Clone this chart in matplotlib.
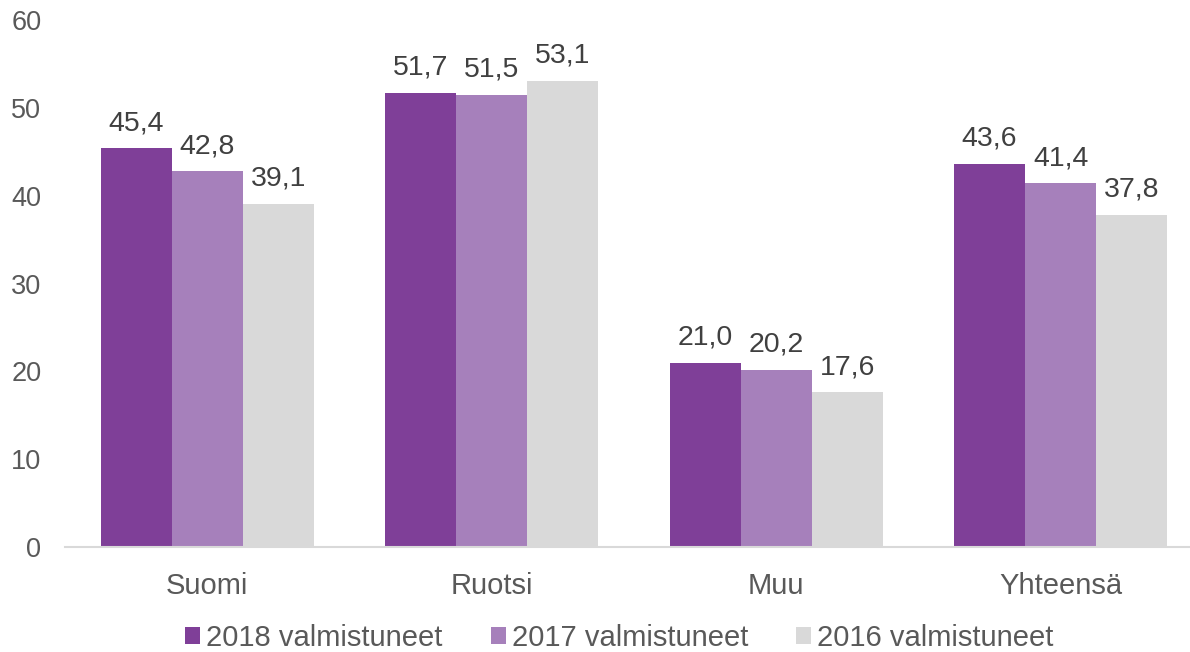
import matplotlib.pyplot as plt
import numpy as np

plt.rcParams['font.family'] = ['Liberation Sans', 'DejaVu Sans']

categories = ["Suomi", "Ruotsi", "Muu", "Yhteensä"]
series_names = ["2018 valmistuneet", "2017 valmistuneet", "2016 valmistuneet"]
v2018 = [45.4, 51.7, 21.0, 43.6]
v2017 = [42.8, 51.5, 20.2, 41.4]
v2016 = [39.1, 53.1, 17.6, 37.8]
yticks = [0, 10, 20, 30, 40, 50, 60]

colors = ["#7F3F98", "#A680BB", "#D9D9D9"]
text_col = "#595959"

fig = plt.figure(figsize=(11.9, 6.52), dpi=100)
# axes placed so category width matches the reference (~284.5 px)
ax = fig.add_axes([65 / 1190, 105 / 652, 1138 / 1190, 527 / 652])

x = np.arange(len(categories))
w = 0.25
for i, (vals, name) in enumerate(zip([v2018, v2017, v2016], series_names)):
    bars = ax.bar(x + (i - 1) * w, vals, w, color=colors[i], label=name)
    for b, v in zip(bars, vals):
        ax.annotate(f"{v:.1f}".replace(".", ","),
                    (b.get_x() + b.get_width() / 2, b.get_height()),
                    xytext=(0, 13), textcoords="offset points",
                    ha="center", va="baseline", fontsize=20.5, color="#404040")

ax.set_xlim(-0.5, 3.5)
ax.set_ylim(0, 60)
ax.set_yticks(yticks)
ax.set_xticks(x)
ax.set_xticklabels(categories)
ax.tick_params(axis="both", length=0, labelsize=19.5, colors=text_col)
ax.tick_params(axis="y", pad=17)
ax.tick_params(axis="x", pad=18, labelsize=21)
for s in ["top", "right", "left"]:
    ax.spines[s].set_visible(False)
ax.spines["bottom"].set_color("#D9D9D9")
ax.spines["bottom"].set_linewidth(1.5)

leg = fig.legend(loc="center", bbox_to_anchor=(0.5206, 0.022), ncol=3,
                 frameon=False, fontsize=21, handlelength=0.52, handleheight=0.52,
                 handletextpad=0.2, columnspacing=1.65)
for t in leg.get_texts():
    t.set_color(text_col)

fig.savefig("out.png", dpi=100)
